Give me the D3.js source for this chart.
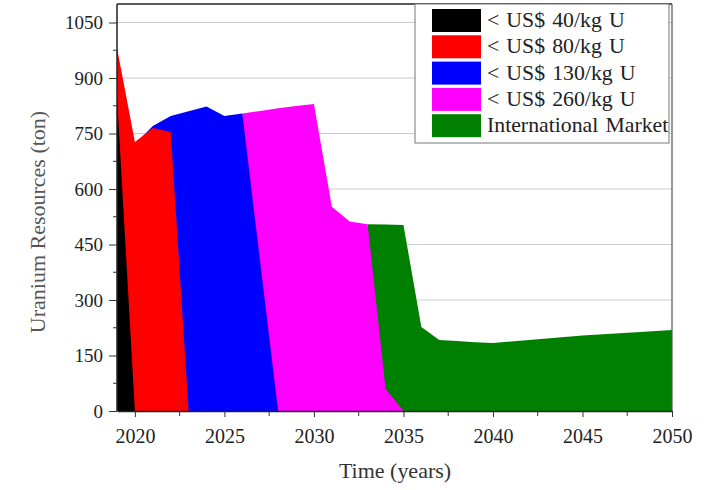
<!DOCTYPE html>
<html>
<head>
<meta charset="utf-8">
<script src="https://cdn.jsdelivr.net/npm/d3@7/dist/d3.min.js"></script>
<style>
  html, body { margin: 0; padding: 0; background: #fff; }
  svg { display: block; font-family: "Liberation Serif", "Times New Roman", serif; }
</style>
</head>
<body>
<svg id="chart" width="710" height="490"></svg>
<script>
// Uranium supply by cost tier over time (tons)
const tier40Years = [2019, 2020];
const tier40Values = [850, 0];

const tier80Years = [2019, 2020, 2021, 2022, 2023];
const tier80Values = [981, 727, 765, 754, 0];

const tier130Years = [2020, 2021, 2022, 2023, 2024, 2025, 2026, 2028];
const tier130Values = [720, 770, 797, 810, 823, 797, 804, 0];

const tier260Years = [2026, 2027, 2028, 2029, 2030, 2031, 2032, 2033, 2034, 2035];
const tier260Values = [804, 811, 818, 824, 830, 552, 512, 505, 60, 0];

const marketYears = [2033, 2034, 2035, 2036, 2037, 2038, 2039, 2040, 2042, 2045, 2048, 2050];
const marketValues = [505, 504, 503, 227, 192, 189, 186, 184, 192, 204, 213, 219];

const seriesNames = ["< US$ 40/kg U", "< US$ 80/kg U", "< US$ 130/kg U", "< US$ 260/kg U", "International Market"];
const seriesColors = ["#000000", "#ff0000", "#0000ff", "#ff00ff", "#008000"];

const yTickValues = [0, 150, 300, 450, 600, 750, 900, 1050];
const yMinorTicks = [75, 225, 375, 525, 675, 825, 975];
const xTickValues = [2020, 2025, 2030, 2035, 2040, 2045, 2050];
const xMinorTicks = [2022.5, 2027.5, 2032.5, 2037.5, 2042.5, 2047.5];

const series = [
  { years: tier40Years, values: tier40Values },
  { years: tier80Years, values: tier80Values },
  { years: tier130Years, values: tier130Values },
  { years: tier260Years, values: tier260Values },
  { years: marketYears, values: marketValues }
].map((s, i) => ({
  name: seriesNames[i],
  color: seriesColors[i],
  points: s.years.map((yr, j) => ({ year: yr, value: s.values[j] }))
}));

const svg = d3.select("#chart");
const plotLeft = 117, plotRight = 672, plotTop = 4, plotBottom = 411;
const serif = "Liberation Serif, Times New Roman, serif";

const x = d3.scaleLinear().domain([2019, 2050]).range([plotLeft, plotRight]);
const y = d3.scaleLinear().domain([0, 1100]).range([plotBottom, plotTop]);

// horizontal grid
svg.append("g")
  .selectAll("line")
  .data(yTickValues.filter(v => v > 0))
  .join("line")
  .attr("x1", plotLeft).attr("x2", plotRight)
  .attr("y1", d => y(d)).attr("y2", d => y(d))
  .attr("stroke", "#cccccc")
  .attr("stroke-width", 1);

// areas, later tiers underneath earlier ones
const area = d3.area()
  .x(d => x(d.year))
  .y0(y(0))
  .y1(d => y(d.value));

svg.append("g")
  .selectAll("path")
  .data(series.slice().reverse())
  .join("path")
  .attr("d", d => area(d.points))
  .attr("fill", d => d.color);

// frame
svg.append("line")
  .attr("x1", plotLeft).attr("x2", plotRight).attr("y1", plotTop).attr("y2", plotTop)
  .attr("stroke", "#222").attr("stroke-width", 1.5);
svg.append("line")
  .attr("x1", plotRight).attr("x2", plotRight).attr("y1", plotTop).attr("y2", plotBottom)
  .attr("stroke", "#555").attr("stroke-width", 1.2);

// y axis
const yAxis = svg.append("g")
  .attr("transform", `translate(${plotLeft},0)`)
  .call(d3.axisLeft(y).tickValues(yTickValues).tickFormat(d3.format("d"))
    .tickSize(8).tickSizeOuter(0).tickPadding(6));
yAxis.select(".domain").attr("stroke", "#222").attr("stroke-width", 1.5)
  .attr("d", `M0,${plotTop}V${plotBottom}`);
yAxis.selectAll(".tick line").attr("stroke", "#333");
yAxis.selectAll(".tick text")
  .attr("font-size", 19).attr("fill", "#222")
  .attr("font-family", serif);

svg.append("g")
  .attr("transform", `translate(${plotLeft},0)`)
  .selectAll("line")
  .data(yMinorTicks)
  .join("line")
  .attr("x1", -4).attr("x2", 0)
  .attr("y1", d => y(d)).attr("y2", d => y(d))
  .attr("stroke", "#333");

// x axis
const xAxis = svg.append("g")
  .attr("transform", `translate(0,${plotBottom})`)
  .call(d3.axisBottom(x).tickValues(xTickValues).tickFormat(d3.format("d"))
    .tickSize(6).tickSizeOuter(0).tickPadding(12));
xAxis.select(".domain").attr("stroke", "#222").attr("stroke-width", 1.5);
xAxis.selectAll(".tick line").attr("stroke", "#333");
xAxis.selectAll(".tick text")
  .attr("font-size", 20).attr("fill", "#222")
  .attr("font-family", serif);

svg.append("g")
  .attr("transform", `translate(0,${plotBottom})`)
  .selectAll("line")
  .data(xMinorTicks)
  .join("line")
  .attr("x1", d => x(d)).attr("x2", d => x(d))
  .attr("y1", 0).attr("y2", 5)
  .attr("stroke", "#333");

// axis titles
svg.append("text")
  .attr("transform", "translate(45,222) rotate(-90) scale(1.1,1)")
  .attr("text-anchor", "middle")
  .attr("font-size", 20)
  .attr("fill", "#555")
  .text("Uranium Resources (ton)");

svg.append("text")
  .attr("transform", "translate(395,478) scale(1.1,1)")
  .attr("text-anchor", "middle")
  .attr("font-size", 20)
  .attr("fill", "#333")
  .text("Time (years)");

// legend
const legend = svg.append("g").attr("transform", "translate(415,4)");
legend.append("rect")
  .attr("x", 0).attr("y", 0).attr("width", 254).attr("height", 139)
  .attr("fill", "#fff").attr("stroke", "#777").attr("stroke-width", 1);

const rows = legend.selectAll("g.row")
  .data(series)
  .join("g")
  .attr("class", "row")
  .attr("transform", (d, i) => `translate(17,${5 + i * 26.3})`);
rows.append("rect")
  .attr("width", 49).attr("height", 23)
  .attr("fill", d => d.color);
rows.append("text")
  .attr("transform", "translate(55,18) scale(1.09,1)")
  .attr("font-size", 20)
  .attr("word-spacing", 1.5)
  .attr("fill", "#222")
  .text(d => d.name);
</script>
</body>
</html>
